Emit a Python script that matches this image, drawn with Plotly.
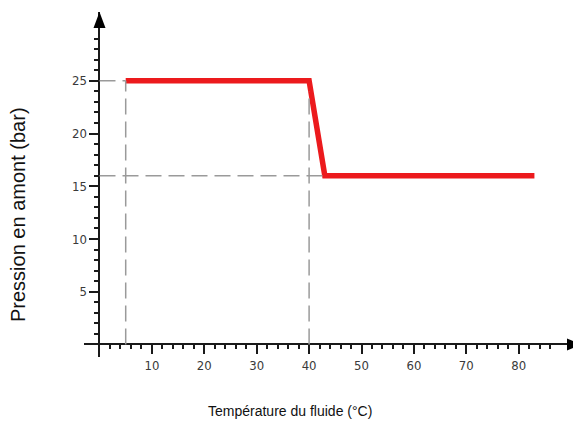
import plotly.graph_objects as go

# ---- data ----
temperature = [5, 40, 43, 83]          # °C
pression = [25, 25, 16, 16]            # bar
x_tick_vals = [10, 20, 30, 40, 50, 60, 70, 80]
y_tick_vals = [5, 10, 15, 20, 25]
x_minor_vals = [v for v in range(2, 87, 2) if v % 10]
y_minor_vals = [v for v in range(1, 30) if v % 5]

# page has an 8px body margin, so the figure is 8px smaller than the window
W, H = 573, 435
L, R, T, B = 76, 0, 4, 86
X_RANGE = [-2.958, 91.89]
Y_RANGE = [-1.185, 31.52]

pw = W - L - R
ph = H - T - B
ux = (X_RANGE[1] - X_RANGE[0]) / pw   # units per pixel
uy = (Y_RANGE[1] - Y_RANGE[0]) / ph

fig = go.Figure()

axis_col = "#1a1a1a"
guide = dict(color="#9a9a9a", width=1.5, dash="16px,7px")

# guide lines derived from the data
shapes = [
    dict(type="line", xref="x", yref="y", x0=0, x1=temperature[0], y0=pression[0], y1=pression[0], line=guide),
    dict(type="line", xref="x", yref="y", x0=temperature[0], x1=temperature[0], y0=0, y1=pression[0], line=guide),
    dict(type="line", xref="x", yref="y", x0=temperature[1], x1=temperature[1], y0=0, y1=pression[1] - 1, line=guide),
    dict(type="line", xref="x", yref="y", x0=0, x1=temperature[2], y0=pression[2], y1=pression[2], line=guide),
]
# arrow heads
ya_base = Y_RANGE[1] - 16 * uy
yhw = 6 * ux
shapes.append(dict(type="path", xref="x", yref="y",
                   path=f"M {-yhw},{ya_base} L {yhw},{ya_base} L 0,{Y_RANGE[1]} Z",
                   fillcolor="#000", line=dict(width=0)))
xa_base = X_RANGE[1] - 14 * ux
xhh = 6 * uy
shapes.append(dict(type="path", xref="x", yref="y",
                   path=f"M {xa_base},{-xhh} L {xa_base},{xhh} L {X_RANGE[1]},0 Z",
                   fillcolor="#000", line=dict(width=0)))

fig.add_trace(go.Scatter(x=temperature, y=pression, mode="lines",
                         line=dict(color="#ec1a1d", width=5.5), showlegend=False,
                         hoverinfo="skip"))

tickfont = dict(family="Liberation Sans Narrow, DejaVu Sans Condensed, sans-serif", size=13, color="#3a3a3a")

fig.update_layout(
    width=W, height=H, autosize=False,
    margin=dict(l=L, r=R, t=T, b=B),
    paper_bgcolor="white", plot_bgcolor="white",
    shapes=shapes,
    xaxis=dict(range=X_RANGE, anchor="free", position=(0 - Y_RANGE[0]) / (Y_RANGE[1] - Y_RANGE[0]),
               showline=True, linecolor=axis_col, linewidth=2,
               showgrid=False, zeroline=False,
               tickmode="array", tickvals=x_tick_vals, ticks="outside", ticklen=9, tickwidth=2,
               tickcolor=axis_col, tickfont=tickfont,
               minor=dict(tickmode="array", tickvals=x_minor_vals, ticks="outside", ticklen=4,
                          tickwidth=2, tickcolor=axis_col, showgrid=False)),
    yaxis=dict(range=Y_RANGE, anchor="free", position=(0 - X_RANGE[0]) / (X_RANGE[1] - X_RANGE[0]),
               showline=True, linecolor=axis_col, linewidth=2,
               showgrid=False, zeroline=False,
               tickmode="array", tickvals=y_tick_vals, ticks="outside", ticklen=9, tickwidth=2,
               tickcolor=axis_col, tickfont=tickfont,
               minor=dict(tickmode="array", tickvals=y_minor_vals, ticks="outside", ticklen=4,
                          tickwidth=2, tickcolor=axis_col, showgrid=False)),
    annotations=[
        dict(text="Pression en amont (bar)", xref="paper", yref="paper",
             x=(10 - L) / pw, y=(H - B - 207) / ph, showarrow=False, textangle=-90,
             xanchor="center", yanchor="middle",
             font=dict(family="Liberation Sans, Arial, sans-serif", size=20, color="#111")),
        dict(text="Température du fluide (°C)", xref="paper", yref="paper",
             x=(282 - L) / pw, y=(H - B - 403) / ph, showarrow=False,
             xanchor="center", yanchor="middle",
             font=dict(family="Liberation Sans, Arial, sans-serif", size=14, color="#111")),
    ],
)

fig.write_html("out.html")
